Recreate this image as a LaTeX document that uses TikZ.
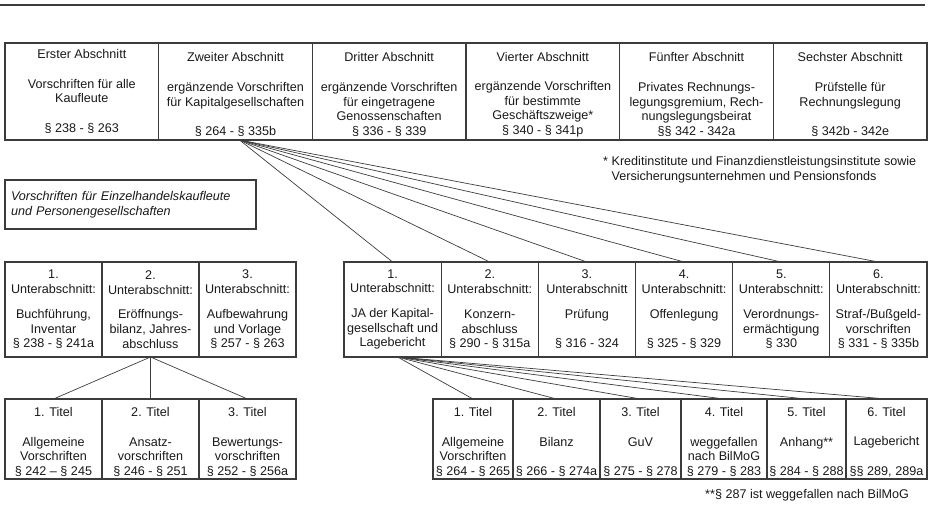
\documentclass[tikz,border=0pt]{standalone}
\usepackage{fontspec}
\setmainfont{Liberation Sans}
\usepackage{xcolor}
\definecolor{hgblinie}{RGB}{60,60,60}
\definecolor{hgbtext}{RGB}{25,25,25}
\usepackage{tikz}
\usetikzlibrary{positioning}
\newcommand{\tief}{\rule{0pt}{15.5pt}}

\begin{document}
\begin{tikzpicture}[x=1pt,y=-1pt,
  kasten/.style={draw=hgblinie,line width=1.1pt,outer sep=0pt,inner sep=1pt,align=center,
    font=\fontsize{12.6}{14.7}\selectfont,text=hgbtext},
  abschnitt/.style={kasten,minimum width=153.67pt,minimum height=97pt},
  unter/.style={kasten,minimum width=97.17pt,minimum height=95pt},
  titel/.style={kasten,minimum width=97pt,minimum height=80pt},
  verb/.style={hgblinie,line width=0.7pt},
  notiz/.style={font=\fontsize{12.6}{14.7}\selectfont,text=hgbtext,inner sep=0pt,align=left}]
\useasboundingbox (0,0) rectangle (939,508);
\draw[hgblinie,line width=1.2pt] (0,5) -- (925,5);
% ---- erste Ebene: sechs Abschnitte ----
\node[abschnitt,anchor=north west] (ab1) at (5,43) {Erster Abschnitt\\[14.7pt]Vorschriften für alle\\Kaufleute\\[14.7pt]§ 238 - § 263};
\node[abschnitt,right=0pt of ab1] (ab2) {\tief Zweiter Abschnitt\\[14.7pt]ergänzende Vorschriften\\für Kapitalgesellschaften\\[14.7pt]§ 264 - § 335b};
\node[abschnitt,right=0pt of ab2] (ab3) {\tief Dritter Abschnitt\\[14.7pt]ergänzende Vorschriften\\für eingetragene\\Genossenschaften\\§ 336 - § 339};
\node[abschnitt,right=0pt of ab3] (ab4) {\tief Vierter Abschnitt\\[14.7pt]ergänzende Vorschriften\\für bestimmte\\Geschäftszweige*\\§ 340 - § 341p};
\node[abschnitt,right=0pt of ab4] (ab5) {\tief Fünfter Abschnitt\\[14.7pt]Privates Rechnungs-\\legungsgremium, Rech-\\nungslegungsbeirat\\§§ 342 - 342a};
\node[abschnitt,right=0pt of ab5] (ab6) {\tief Sechster Abschnitt\\[14.7pt]Prüfstelle für\\Rechnungslegung\\[14.7pt]§ 342b - 342e};
\node[notiz,anchor=west] (fn1) at (603,170) {* Kreditinstitute und Finanzdienstleistungsinstitute sowie\\\hphantom{*\ }Versicherungsunternehmen und Pensionsfonds};
% kasten fuer einzelkaufleute
\node[kasten,font=\fontsize{12.6}{14.7}\selectfont\itshape,align=left,text width=239pt,
  inner xsep=6pt,minimum height=49pt,anchor=north west] (einzel) at (5,180)
  {Vorschriften für Einzelhandelskaufleute\\und Personengesellschaften};
% ---- Unterabschnitte links (erster Abschnitt) ----
\node[unter,minimum width=97pt,anchor=north west] (ua1) at (5,262) {1.\\Unterabschnitt:\\[10pt]Buchführung,\\Inventar\\§ 238 - § 241a};
\node[unter,minimum width=97pt,right=0pt of ua1] (ua2) {2.\\Unterabschnitt:\\[10pt]Eröffnungs-\\bilanz, Jahres-\\abschluss};
\node[unter,minimum width=97pt,right=0pt of ua2] (ua3) {3.\\Unterabschnitt:\\[10pt]Aufbewahrung\\und Vorlage\\§ 257 - § 263};
% ---- Unterabschnitte rechts (zweiter Abschnitt) ----
\node[unter,anchor=north west] (ub1) at (344,262) {1.\\Unterabschnitt:\\[10pt]JA der Kapital-\\gesellschaft und\\Lagebericht};
\node[unter,right=0pt of ub1] (ub2) {2.\\Unterabschnitt:\\[10pt]Konzern-\\abschluss\\§ 290 - § 315a};
\node[unter,right=0pt of ub2] (ub3) {3.\\Unterabschnitt\\[10pt]Prüfung\\[14.7pt]§ 316 - 324};
\node[unter,right=0pt of ub3] (ub4) {4.\\Unterabschnitt:\\[10pt]Offenlegung\\[14.7pt]§ 325 - § 329};
\node[unter,right=0pt of ub4] (ub5) {5.\\Unterabschnitt:\\[10pt]Verordnungs-\\ermächtigung\\§ 330};
\node[unter,right=0pt of ub5] (ub6) {6.\\Unterabschnitt:\\[10pt]Straf-/Bußgeld-\\vorschriften\\§ 331 - § 335b};
% ---- Titel links ----
\node[titel,anchor=north west] (ta1) at (5,399) {\tief 1. Titel\\[14.7pt]Allgemeine\\Vorschriften\\§ 242 – § 245};
\node[titel,right=0pt of ta1] (ta2) {\tief 2. Titel\\[14.7pt]Ansatz-\\vorschriften\\§ 246 - § 251};
\node[titel,right=0pt of ta2] (ta3) {\tief 3. Titel\\[14.7pt]Bewertungs-\\vorschriften\\§ 252 - § 256a};
% ---- Titel rechts ----
\node[titel,minimum width=80pt,anchor=north west] (tb1) at (433,399) {\tief 1. Titel\\[14.7pt]Allgemeine\\Vorschriften\\§ 264 - § 265};
\node[titel,minimum width=87pt,right=0pt of tb1] (tb2) {\tief 2. Titel\\[14.7pt]Bilanz\\[14.7pt]§ 266 - § 274a};
\node[titel,minimum width=81pt,right=0pt of tb2] (tb3) {\tief 3. Titel\\[14.7pt]GuV\\[14.7pt]§ 275 - § 278};
\node[titel,minimum width=86pt,right=0pt of tb3] (tb4) {\tief 4. Titel\\[14.7pt]weggefallen\\nach BilMoG\\§ 279 - § 283};
\node[titel,minimum width=79pt,right=0pt of tb4] (tb5) {\tief 5. Titel\\[14.7pt]Anhang**\\[14.7pt]§ 284 - § 288};
\node[titel,minimum width=81pt,right=0pt of tb5] (tb6) {\tief 6. Titel\\[14.7pt]Lagebericht\\[14.7pt]§§ 289, 289a};
\node[notiz,anchor=west] (fn2) at (705,495) {**§ 287 ist weggefallen nach BilMoG};
% verbindungen
\coordinate (k1) at ([xshift=4pt]ab2.south);
\coordinate (k2) at ([xshift=5pt]ub1.south);
\foreach \i in {1,...,6} \draw[verb] (k1) -- (ub\i.north);
\foreach \i in {1,2,3} \draw[verb] (ua2.south) -- (ta\i.north);
\foreach \i in {1,...,6} \draw[verb] (k2) -- (tb\i.north);
\end{tikzpicture}
\end{document}
